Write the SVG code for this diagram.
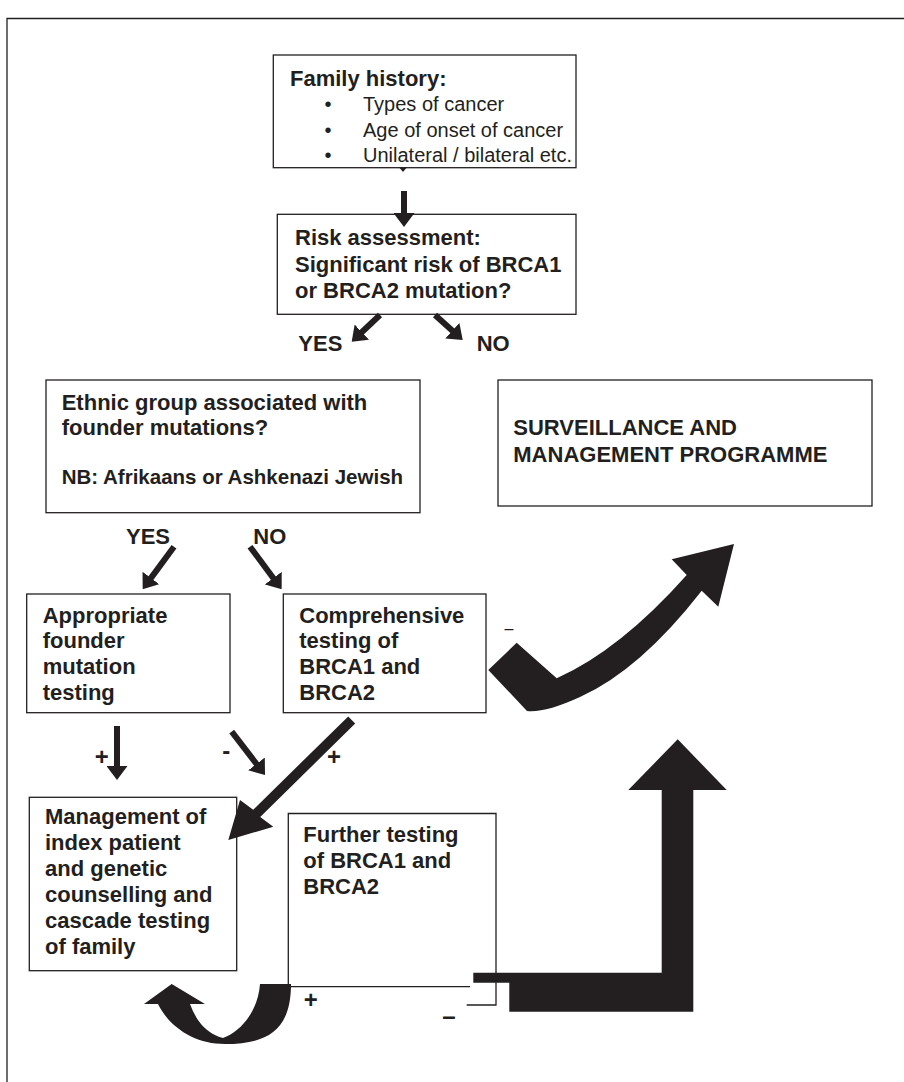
<svg xmlns="http://www.w3.org/2000/svg" width="904" height="1082" viewBox="0 0 904 1082">
<style>
.box{fill:#fff;stroke:#231f20;stroke-width:1.3}
.edge{fill:none;stroke:#231f20;stroke-width:1.3}
.b{font-family:"Liberation Sans",Arial,Helvetica,sans-serif;font-weight:bold;font-size:22px;fill:#231f20}
.nb{font-size:20.5px}
.r{font-family:"Liberation Sans",Arial,Helvetica,sans-serif;font-size:20px;fill:#231f20}
.ln{fill:none;stroke:#231f20;stroke-width:6}
.blk{fill:#231f20}
.sym{font-family:"Liberation Sans",Arial,Helvetica,sans-serif;font-weight:bold;font-size:24px;fill:#231f20;text-anchor:middle}
</style>
<defs>
<marker id="ah" markerUnits="userSpaceOnUse" viewBox="0 0 14 21" markerWidth="14" markerHeight="21" refX="2" refY="10.5" orient="auto">
<path d="M0,0 L14,10.5 L0,21 Z" fill="#231f20"/>
</marker>
</defs>
<rect width="904" height="1082" fill="#fff"/>
<path id="frame" class="edge" d="M7,1082 V18.5 H904"/>

<g id="family">
<rect class="box" x="273.3" y="55" width="302.7" height="112.7"/>
<text class="b" x="290" y="86">Family history:</text>
<text class="r" x="328" y="111" text-anchor="middle">•</text>
<text class="r" x="328" y="136.5" text-anchor="middle">•</text>
<text class="r" x="328" y="162" text-anchor="middle">•</text>
<text class="r" x="363" y="111">Types of cancer</text>
<text class="r" x="363" y="136.5">Age of onset of cancer</text>
<text class="r" x="363" y="162">Unilateral / bilateral etc.</text>
</g>

<g id="risk">
<rect class="box" x="277.3" y="214.3" width="298.7" height="100"/>
<text class="b" x="295" y="245">Risk assessment:</text>
<text class="b" x="295" y="271.5">Significant risk of BRCA1</text>
<text class="b" x="295" y="298">or BRCA2 mutation?</text>
</g>

<g id="ethnic">
<rect class="box" x="46" y="380" width="374" height="132.7"/>
<text class="b" x="61.7" y="409.5">Ethnic group associated with</text>
<text class="b" x="61.7" y="434.5">founder mutations?</text>
<text class="b nb" x="61.7" y="484">NB: Afrikaans or Ashkenazi Jewish</text>
</g>

<g id="surveillance">
<rect class="box" x="498" y="380" width="374" height="126"/>
<text class="b" x="513.3" y="435">SURVEILLANCE AND</text>
<text class="b" x="513.3" y="461.5">MANAGEMENT PROGRAMME</text>
</g>

<g id="appropriate">
<rect class="box" x="26.7" y="594" width="203.3" height="118.7"/>
<text class="b" x="42.7" y="622.7">Appropriate</text>
<text class="b" x="42.7" y="648.3">founder</text>
<text class="b" x="42.7" y="674">mutation</text>
<text class="b" x="42.7" y="699.5">testing</text>
</g>

<g id="comprehensive">
<rect class="box" x="283.3" y="594" width="202.7" height="118.7"/>
<text class="b" x="299.3" y="622.7">Comprehensive</text>
<text class="b" x="299.3" y="648.3">testing of</text>
<text class="b" x="299.3" y="674">BRCA1 and</text>
<text class="b" x="299.3" y="699.5">BRCA2</text>
</g>

<g id="management">
<rect class="box" x="29.3" y="797.3" width="207.4" height="173.4"/>
<text class="b" x="45" y="824">Management of</text>
<text class="b" x="45" y="850">index patient</text>
<text class="b" x="45" y="876">and genetic</text>
<text class="b" x="45" y="902">counselling and</text>
<text class="b" x="45" y="928">cascade testing</text>
<text class="b" x="45" y="954">of family</text>
</g>

<g id="further">
<path class="edge" d="M470,986.7 H288.3 V813.5 H496 V1005 H466.7"/>
<text class="b" x="303.3" y="841.7">Further testing</text>
<text class="b" x="303.3" y="867.7">of BRCA1 and</text>
<text class="b" x="303.3" y="893.7">BRCA2</text>
</g>

<g id="connectors">
<path class="blk" d="M399.5,167.7 L406.5,167.7 L403,172 Z"/>
<line class="ln" x1="404" y1="191" x2="404" y2="215" marker-end="url(#ah)"/>
<line class="ln" x1="380" y1="315" x2="360.4" y2="333.5" marker-end="url(#ah)"/>
<line class="ln" x1="435" y1="315" x2="453.8" y2="332" marker-end="url(#ah)"/>
<line class="ln" x1="174" y1="546.7" x2="149.8" y2="579.6" marker-end="url(#ah)"/>
<line class="ln" x1="250" y1="546.7" x2="274.5" y2="579.7" marker-end="url(#ah)"/>
<line class="ln" x1="117" y1="726" x2="117" y2="768" marker-end="url(#ah)"/>
<line class="ln" x1="231.7" y1="731.7" x2="257.7" y2="765.5" marker-end="url(#ah)"/>
<path class="blk" d="M348.2,716.4 L355.2,723.6 L260.2,816.9 L273.3,826.7 L228.3,840 L240,800 L253.2,809.7 Z"/>
<path class="blk" d="M488.3,670 L516.7,642.7 L556.7,678.3 Q620,650 686.7,575 L671.7,559.3 L734,544 L718.3,606.7 L701.7,590.7 Q640,670 580,697 Q545,713 527,711 Z"/>
<path class="blk" d="M473.3,972.7 H661.7 V790 H628.3 L677.7,739.3 L726.7,790 H693.3 V1011.7 H509.3 V982.7 H473.3 Z"/>
<path class="blk" d="M260,984 L291,984 C291,1030 268,1044 225,1044 C195,1044 170,1028 158,1004 L144,1004 L171.7,984 L205,1004 L190,1004 Q200,1032 223,1038 C240,1032 258,1012 260,984 Z"/>
<text class="b" x="298.3" y="350.5">YES</text>
<text class="b" x="476.7" y="350.5">NO</text>
<text class="b" x="126" y="543.5">YES</text>
<text class="b" x="253.3" y="543.5">NO</text>
<text class="sym" x="101.7" y="765">+</text>
<text class="sym" x="226.3" y="759">-</text>
<text class="sym" x="334" y="765">+</text>
<text class="r" x="509" y="634" text-anchor="middle" style="font-size:16px">–</text>
<text class="sym" x="310.8" y="1008">+</text>
<text class="sym" x="449" y="1024">–</text>
</g>
</svg>
